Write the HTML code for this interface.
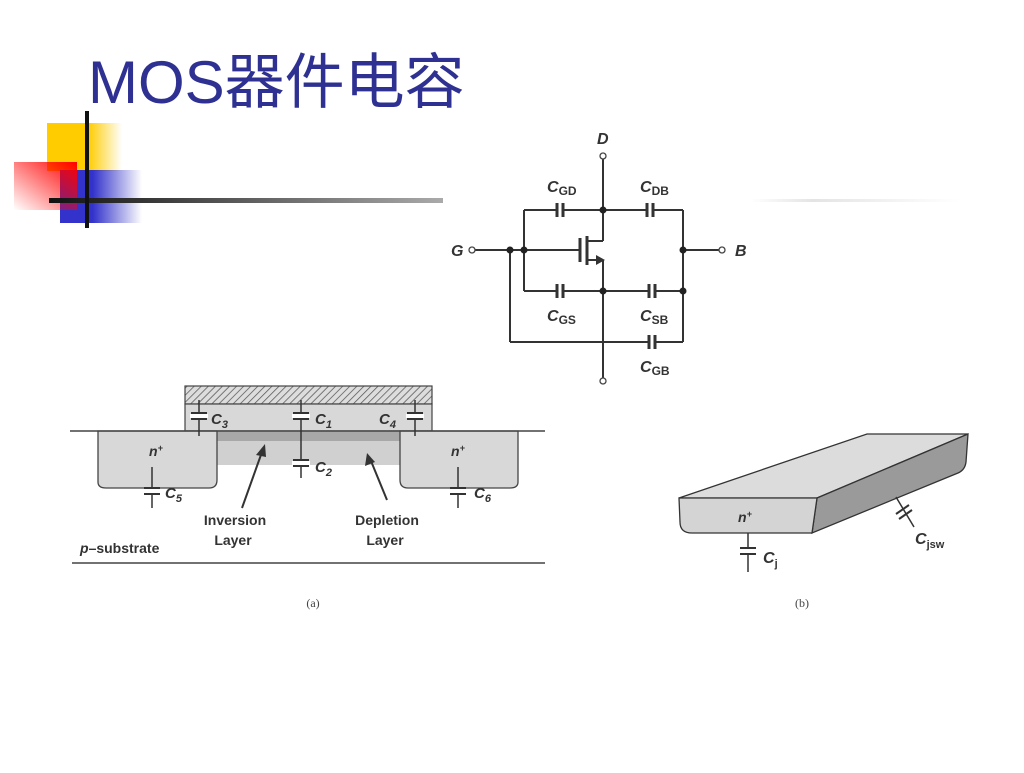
<!DOCTYPE html>
<html><head><meta charset="utf-8"><style>
body{margin:0;background:#fff;width:1024px;height:768px;overflow:hidden}
</style></head><body>
<svg width="1024" height="768" viewBox="0 0 1024 768" xmlns="http://www.w3.org/2000/svg" font-family="Liberation Sans, sans-serif">
<defs>
<linearGradient id="gy" x1="0" x2="1"><stop offset="0.55" stop-color="#ffcc00"/><stop offset="1" stop-color="#ffcc00" stop-opacity="0"/></linearGradient>
<linearGradient id="gb" x1="0" x2="1"><stop offset="0.4" stop-color="#3333cc"/><stop offset="1" stop-color="#3333cc" stop-opacity="0"/></linearGradient>
<linearGradient id="gr" x1="1" y1="0" x2="0" y2="1"><stop offset="0" stop-color="#ff0000"/><stop offset="1" stop-color="#ff0000" stop-opacity="0"/></linearGradient>
<linearGradient id="gl" x1="0" x2="1"><stop offset="0" stop-color="#111"/><stop offset="1" stop-color="#aaa"/></linearGradient>
<linearGradient id="gl2" x1="0" x2="1"><stop offset="0" stop-color="#fff"/><stop offset="0.3" stop-color="#e4e4e4"/><stop offset="1" stop-color="#fff"/></linearGradient>
<pattern id="hatch" width="5" height="5" patternUnits="userSpaceOnUse" patternTransform="rotate(45)"><rect width="5" height="5" fill="#ddd"/><line x1="0" y1="0" x2="0" y2="5" stroke="#555" stroke-width="1.5"/></pattern>
</defs>
<!-- decoration -->
<rect x="47" y="123" width="75" height="48" fill="url(#gy)"/>
<rect x="60" y="170" width="82" height="53" fill="url(#gb)"/>
<rect x="14" y="162" width="63" height="48" fill="url(#gr)"/>
<rect x="49" y="198" width="394" height="5" fill="url(#gl)"/>
<rect x="750" y="199" width="210" height="3" fill="url(#gl2)"/>
<rect x="85" y="111" width="4" height="117" fill="#111"/>
<text x="88" y="103" font-size="60" fill="#2e3192" font-family="Liberation Sans, Noto Sans CJK SC, sans-serif">MOS器件电容</text>

<!-- circuit -->
<g stroke="#333" stroke-width="2" fill="none">
<line x1="603" y1="159" x2="603" y2="241"/>
<line x1="603" y1="260" x2="603" y2="378"/>
<line x1="524" y1="210" x2="557" y2="210"/><line x1="563" y1="210" x2="647" y2="210"/><line x1="653" y1="210" x2="683" y2="210"/>
<line x1="524" y1="291" x2="557" y2="291"/><line x1="563" y1="291" x2="649" y2="291"/><line x1="655" y1="291" x2="683" y2="291"/>
<line x1="510" y1="342" x2="649" y2="342"/><line x1="655" y1="342" x2="683" y2="342"/>
<line x1="524" y1="210" x2="524" y2="291"/>
<line x1="510" y1="250" x2="510" y2="342"/>
<line x1="683" y1="210" x2="683" y2="342"/>
<line x1="475" y1="250" x2="580" y2="250"/>
<line x1="683" y1="250" x2="719" y2="250"/>
<line x1="588" y1="241" x2="603" y2="241"/>
<line x1="588" y1="260" x2="598" y2="260"/>
</g>
<g stroke="#333" stroke-width="3">
<line x1="557" y1="203" x2="557" y2="217"/><line x1="563" y1="203" x2="563" y2="217"/>
<line x1="647" y1="203" x2="647" y2="217"/><line x1="653" y1="203" x2="653" y2="217"/>
<line x1="557" y1="284" x2="557" y2="298"/><line x1="563" y1="284" x2="563" y2="298"/>
<line x1="649" y1="284" x2="649" y2="298"/><line x1="655" y1="284" x2="655" y2="298"/>
<line x1="649" y1="335" x2="649" y2="349"/><line x1="655" y1="335" x2="655" y2="349"/>
<line x1="580" y1="238" x2="580" y2="262"/><line x1="587" y1="236" x2="587" y2="265"/>
</g>
<polygon points="605,260 596,255 596,265" fill="#333"/>
<g fill="#222"><circle cx="603" cy="210" r="3.5"/><circle cx="603" cy="291" r="3.5"/><circle cx="510" cy="250" r="3.5"/><circle cx="524" cy="250" r="3.5"/><circle cx="683" cy="250" r="3.5"/><circle cx="683" cy="291" r="3.5"/></g>
<g fill="#fff" stroke="#444" stroke-width="1.3"><circle cx="603" cy="156" r="3"/><circle cx="472" cy="250" r="3"/><circle cx="722" cy="250" r="3"/><circle cx="603" cy="381" r="3"/></g>
<g fill="#333" font-weight="bold" font-style="italic" font-size="16">
<text x="597" y="144">D</text><text x="451" y="256">G</text><text x="735" y="256">B</text>
<text x="547" y="192">C<tspan font-size="12" font-style="normal" dy="3">GD</tspan></text>
<text x="640" y="192">C<tspan font-size="12" font-style="normal" dy="3">DB</tspan></text>
<text x="547" y="321">C<tspan font-size="12" font-style="normal" dy="3">GS</tspan></text>
<text x="640" y="321">C<tspan font-size="12" font-style="normal" dy="3">SB</tspan></text>
<text x="640" y="372">C<tspan font-size="12" font-style="normal" dy="3">GB</tspan></text>
</g>

<!-- figure a -->
<rect x="185" y="386" width="247" height="18" fill="url(#hatch)" stroke="#444" stroke-width="1.2"/>
<rect x="185" y="404" width="247" height="27" fill="#d8d8d8" stroke="#444" stroke-width="1.2"/>
<rect x="217" y="431" width="183" height="34" fill="#d0d0d0"/>
<rect x="217" y="431" width="183" height="10" fill="#a8a8a8"/>
<path d="M98,431 V482 Q98,488 106,488 H209 Q217,488 217,480 V431 Z" fill="#d8d8d8" stroke="#444" stroke-width="1.3"/>
<path d="M400,431 V480 Q400,488 408,488 H510 Q518,488 518,482 V431 Z" fill="#d8d8d8" stroke="#444" stroke-width="1.3"/>
<line x1="70" y1="431" x2="545" y2="431" stroke="#444" stroke-width="1.5"/>
<line x1="72" y1="563" x2="545" y2="563" stroke="#444" stroke-width="1.5"/>
<g stroke="#333" stroke-width="1.5">
<line x1="199" y1="400" x2="199" y2="436"/><line x1="301" y1="400" x2="301" y2="478"/><line x1="415" y1="400" x2="415" y2="436"/>
<line x1="152" y1="467" x2="152" y2="508"/><line x1="458" y1="467" x2="458" y2="508"/>
</g>
<g fill="#fff"><rect x="190" y="414" width="18" height="4"/><rect x="292" y="414" width="18" height="4"/><rect x="406" y="414" width="18" height="4"/><rect x="292" y="461" width="18" height="4"/><rect x="143" y="489" width="18" height="4"/><rect x="449" y="489" width="18" height="4"/></g>
<g stroke="#333" stroke-width="2">
<line x1="191" y1="413" x2="207" y2="413"/><line x1="191" y1="419" x2="207" y2="419"/>
<line x1="293" y1="413" x2="309" y2="413"/><line x1="293" y1="419" x2="309" y2="419"/>
<line x1="407" y1="413" x2="423" y2="413"/><line x1="407" y1="419" x2="423" y2="419"/>
<line x1="293" y1="460" x2="309" y2="460"/><line x1="293" y1="466" x2="309" y2="466"/>
<line x1="144" y1="488" x2="160" y2="488"/><line x1="144" y1="494" x2="160" y2="494"/>
<line x1="450" y1="488" x2="466" y2="488"/><line x1="450" y1="494" x2="466" y2="494"/>
<line x1="242" y1="508" x2="262" y2="452"/><line x1="387" y1="500" x2="371" y2="461"/>
</g>
<polygon points="265,444 256,455 266,457" fill="#333"/>
<polygon points="367,453 365,466 375,462" fill="#333"/>
<g fill="#333" font-weight="bold" font-size="15">
<text x="211" y="424" font-style="italic">C<tspan font-size="11" dy="4">3</tspan></text>
<text x="315" y="424" font-style="italic">C<tspan font-size="11" dy="4">1</tspan></text>
<text x="379" y="424" font-style="italic">C<tspan font-size="11" dy="4">4</tspan></text>
<text x="315" y="472" font-style="italic">C<tspan font-size="11" dy="4">2</tspan></text>
<text x="165" y="498" font-style="italic">C<tspan font-size="11" dy="4">5</tspan></text>
<text x="474" y="498" font-style="italic">C<tspan font-size="11" dy="4">6</tspan></text>
<text x="149" y="456" font-style="italic" font-size="14">n<tspan font-size="9" dy="-5">+</tspan></text>
<text x="451" y="456" font-style="italic" font-size="14">n<tspan font-size="9" dy="-5">+</tspan></text>
<g font-size="14" text-anchor="middle"><text x="235" y="525">Inversion</text><text x="233" y="545">Layer</text><text x="387" y="525">Depletion</text><text x="385" y="545">Layer</text></g>
<text x="80" y="553" font-size="14"><tspan font-style="italic">p</tspan>–substrate</text>
</g>
<text x="313" y="607" font-size="12" fill="#444" text-anchor="middle" font-family="Liberation Serif, serif">(a)</text>

<!-- figure b -->
<polygon points="867,434 968,434 817,498 679,498" fill="#dcdcdc" stroke="#333" stroke-width="1.3"/>
<path d="M817,498 L968,434 L966,462 Q965,470 958,473 L812,533 Z" fill="#9a9a9a" stroke="#333" stroke-width="1.3"/>
<path d="M679,498 H817 L812,533 H692 Q680,533 680,522 Z" fill="#d4d4d4" stroke="#333" stroke-width="1.3"/>
<g stroke="#333" stroke-width="1.5"><line x1="748" y1="533" x2="748" y2="572"/><line x1="896" y1="497" x2="914" y2="527"/></g>
<rect x="738" y="549" width="20" height="4" fill="#fff"/>
<g stroke="#333" stroke-width="2"><line x1="740" y1="548" x2="756" y2="548"/><line x1="740" y1="554" x2="756" y2="554"/>
<line x1="896" y1="514" x2="909" y2="505"/><line x1="899" y1="519" x2="912" y2="510"/></g>
<g fill="#333" font-weight="bold" font-style="italic">
<text x="738" y="522" font-size="14">n<tspan font-size="9" dy="-5">+</tspan></text>
<text x="763" y="563" font-size="16">C<tspan font-size="11" dy="4" font-style="normal">j</tspan></text>
<text x="915" y="544" font-size="16">C<tspan font-size="11" dy="4" font-style="normal">jsw</tspan></text>
</g>
<text x="802" y="607" font-size="12" fill="#444" text-anchor="middle" font-family="Liberation Serif, serif">(b)</text>
</svg>
</body></html>
